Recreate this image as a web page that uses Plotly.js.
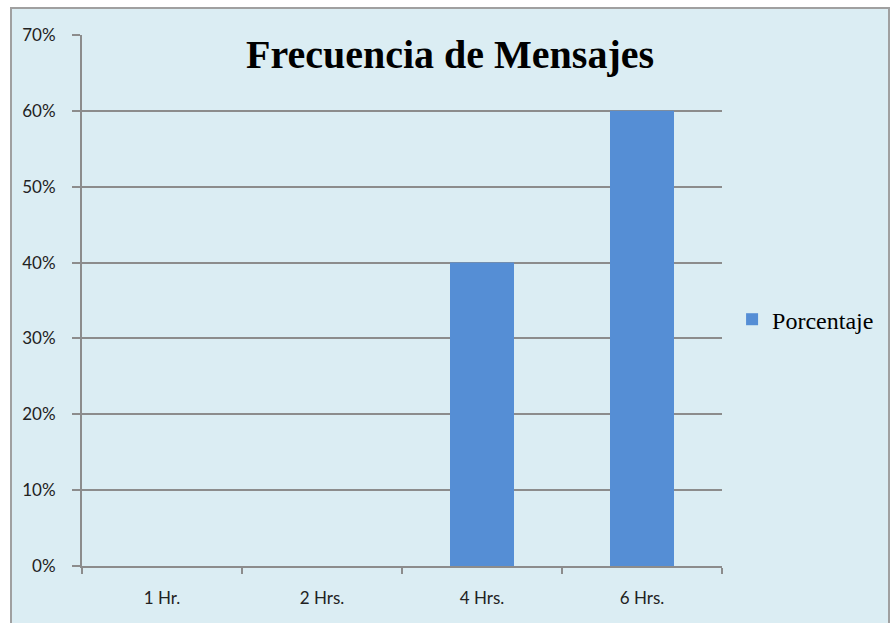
<!DOCTYPE html>
<html>
<head>
<meta charset="utf-8">
<script src="https://cdn.plot.ly/plotly-3.0.1.min.js"></script>
<style>
html,body{margin:0;padding:0;overflow:hidden;background:#ffffff;width:894px;height:623px;}
#frame{position:absolute;left:10px;top:7px;width:880px;height:620px;border:2px solid #a0a0a0;box-sizing:border-box;background:#dbedf3;}
#chart{width:876px;height:616px;}
</style>
</head>
<body>
<div id="frame"><div id="chart"></div></div>
<script>
const categories = ["1 Hr.", "2 Hrs.", "4 Hrs.", "6 Hrs."];
const porcentaje = [0, 0, 40, 60];
const seriesName = "Porcentaje";
const chartTitle = "Frecuencia de Mensajes";
const yTicks = [0, 10, 20, 30, 40, 50, 60, 70];
const yTickLabels = ["0%", "10%", "20%", "30%", "40%", "50%", "60%", "70%"];

const trace = {
  type: "bar",
  x: categories,
  y: porcentaje,
  name: seriesName,
  marker: {color: "#558ed5"},
  showlegend: true,
  hoverinfo: "x+y"
};

const tickFont = {family: "Lato, Open Sans, sans-serif", size: 17, color: "#222222"};

const layout = {
  width: 876,
  height: 616,
  paper_bgcolor: "rgba(0,0,0,0)",
  plot_bgcolor: "rgba(0,0,0,0)",
  margin: {l: 70, r: 166, t: 26, b: 59, autoexpand: false},
  bargap: 0.6,
  title: {
    text: chartTitle,
    font: {family: "Liberation Serif, Times New Roman, serif", size: 40, color: "#000000", weight: "bold"},
    xref: "container", x: 0.5, xanchor: "center",
    yref: "container", y: 1 - 45/616, yanchor: "middle"
  },
  xaxis: {
    type: "category",
    showline: true, linecolor: "#8c8c8c", linewidth: 2,
    ticks: "outside", tickson: "boundaries", ticklen: 6, tickcolor: "#8c8c8c", tickwidth: 2,
    showgrid: false,
    tickfont: tickFont,
    ticklabelstandoff: 16
  },
  yaxis: {
    range: [0, 70],
    tickmode: "array",
    tickvals: yTicks,
    ticktext: yTickLabels,
    showline: true, linecolor: "#8c8c8c", linewidth: 2,
    ticks: "outside", ticklen: 8, tickcolor: "#8c8c8c", tickwidth: 2,
    showgrid: true, gridcolor: "#8c8c8c", gridwidth: 2,
    zeroline: false,
    tickfont: tickFont,
    ticklabelstandoff: 13
  },
  legend: {
    xref: "container", x: 0.822, xanchor: "left",
    y: 0.464, yanchor: "middle",
    bgcolor: "rgba(0,0,0,0)",
    font: {family: "Liberation Serif, Times New Roman, serif", size: 24, color: "#000000"},
    itemwidth: 30
  }
};

Plotly.newPlot("chart", [trace], layout, {displayModeBar: false, staticPlot: true});
</script>
</body>
</html>
